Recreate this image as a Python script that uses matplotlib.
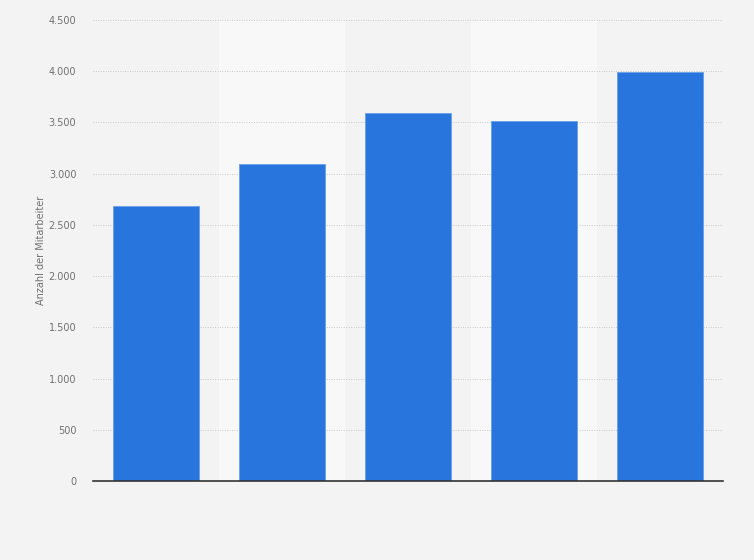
import matplotlib
matplotlib.use("Agg")
from matplotlib import pyplot as plt
from matplotlib.ticker import FuncFormatter

# Anzahl der Mitarbeiter, five unlabelled columns
categories = ["1", "2", "3", "4", "5"]
values = [2685, 3090, 3590, 3510, 3995]
y_ticks = [0, 500, 1000, 1500, 2000, 2500, 3000, 3500, 4000, 4500]

fig = plt.figure(figsize=(7.54, 5.6), dpi=100, facecolor="#f3f3f3")
ax = fig.add_axes([93 / 754, 79 / 560, 630 / 754, 461 / 560])
ax.set_facecolor("#f3f3f3")

x = list(range(len(categories)))

# alternating column bands
for i in x:
    if i % 2 == 1:
        ax.axvspan(i - 0.5, i + 0.5, color="#f8f8f8", zorder=0, lw=0)

ax.bar(x, values, width=0.69, color="#2876dd", edgecolor="#6a9fe6",
       linewidth=0.6, zorder=3)

ax.set_xlim(-0.5, len(categories) - 0.5)
ax.set_ylim(0, 4500)
ax.set_yticks(y_ticks)
ax.yaxis.set_major_formatter(FuncFormatter(lambda v, p: f"{int(v):,}".replace(",", ".")))
ax.grid(axis="y", color="#c8c8c8", linestyle=(0, (1, 1.5)), linewidth=0.7, zorder=1)
ax.set_xticks([])

for s in ["top", "right", "left"]:
    ax.spines[s].set_visible(False)
ax.spines["bottom"].set_color("#333333")
ax.spines["bottom"].set_linewidth(1.2)
ax.spines["bottom"].set_zorder(4)

ax.tick_params(axis="y", length=0, pad=12, labelsize=7, labelcolor="#707070")
ax.set_ylabel("Anzahl der Mitarbeiter", fontsize=7, color="#707070")
ax.yaxis.set_label_coords(-0.075, 0.5)

fig.savefig("out.png", dpi=100, facecolor=fig.get_facecolor())
